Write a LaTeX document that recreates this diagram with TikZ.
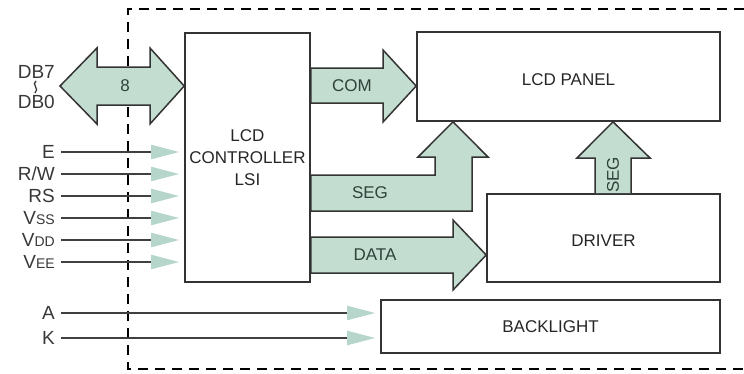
\documentclass[tikz,border=0pt]{standalone}
\usepackage{fontspec}
\setmainfont{Liberation Sans}
\usetikzlibrary{arrows.meta,positioning,calc}
\definecolor{fatgreen}{HTML}{C3DDD0}
\definecolor{tipgreen}{HTML}{B6D6CB}
\definecolor{inktext}{HTML}{383838}
\definecolor{arrowtext}{HTML}{2F423B}
\begin{document}
\begin{tikzpicture}[x=1pt,y=-1pt,
    block node/.style={draw=black!80,line width=1.6pt,inner sep=0pt,align=center,
        font=\fontsize{17}{22}\selectfont,text=black!85},
    pin label/.style={anchor=east,inner sep=0pt,text=inktext,font=\fontsize{19}{20}\selectfont},
    pin line/.style={draw=black!75,line width=2.2pt,
        -{Triangle[length=28pt,width=14pt,color=tipgreen]},shorten >=5pt},
    fat arrow/.style={fill=fatgreen,draw=black!80,line width=1.5pt,line join=miter},
    fat text/.style={text=arrowtext,font=\fontsize{17}{19}\selectfont}]
\useasboundingbox (0,0) rectangle (744,373);

% module border
\draw[line width=2.3pt,dash pattern=on 10pt off 7pt] (744,9) -- (128,9) -- (128,369) -- (744,369);

% blocks
\node[block node,minimum width=125pt,minimum height=249pt] (ctrl) at (247.5,157.5) {LCD\\CONTROLLER\\LSI};
\node[block node,minimum width=303pt,minimum height=89pt] (panel) at (568.5,76.5) {};
\node[block node,minimum width=233pt,minimum height=88pt] (driver) at (603.5,238) {};
\node[block node,minimum width=339pt,minimum height=53pt] (light) at (550.5,326.5) {};
\node[block node,draw=none] at (568.5,80) {LCD PANEL};
\node[block node,draw=none] at (603.5,241) {DRIVER};
\node[block node,draw=none] at (550.5,327) {BACKLIGHT};

% data bus
\node[pin label] (db7) at (55,72) {DB7};
\node[pin label] (db0) at (55,102) {DB0};
\draw[inktext,line width=1.3pt] (36,81) .. controls (31,84) and (40,89) .. (35,93);
\draw[fat arrow] (60,86) -- (97,48) -- (97,67) -- (150,67) -- (150,48) -- (ctrl.west |- 0,86)
    -- (150,124) -- (150,105) -- (97,105) -- (97,124) -- cycle;
\node[fat text] (busw) at (125,86) {8};

% control and supply pins
\foreach \nm/\txt/\yy in {e/E/152,rw/{R/W}/174,rs/RS/196,
        vss/{V{\fontsize{14}{15}\selectfont SS}}/218,
        vdd/{V{\fontsize{14}{15}\selectfont DD}}/240,
        vee/{V{\fontsize{14}{15}\selectfont EE}}/262}{
    \node[pin label] (\nm) at (55,\yy) {\txt};
    \draw[pin line] (\nm.east) ++(6pt,0) -- (ctrl.west |- \nm);
}
\node[pin label] (pa) at (55,313) {A};
\node[pin label] (pk) at (55,338) {K};
\draw[pin line] (pa.east) ++(6pt,0) -- (light.west |- pa);
\draw[pin line] (pk.east) ++(6pt,0) -- (light.west |- pk);

% COM
\draw[fat arrow] (ctrl.east |- 0,68) -- (383,68) -- (383,50) -- (panel.west |- 0,86)
    -- (383,122) -- (383,103) -- (ctrl.east |- 0,103) -- cycle;
\node[fat text] (com) at (352,86) {COM};

% SEG from controller
\draw[fat arrow] (ctrl.east |- 0,175) -- (435,175) -- (435,157) -- (418,157) -- (453,0 |- panel.south)
    -- (488,157) -- (472,157) -- (472,211) -- (ctrl.east |- 0,211) -- cycle;
\node[fat text] (segc) at (370,193) {SEG};

% SEG from driver
\draw[fat arrow] (595,0 |- driver.north) -- (595,158) -- (577,158) -- (613,0 |- panel.south)
    -- (650,158) -- (631,158) -- (631,0 |- driver.north);
\node[fat text,rotate=90] (segd) at (613,175) {SEG};

% DATA
\draw[fat arrow] (ctrl.east |- 0,237) -- (453,237) -- (453,220) -- (driver.west |- 0,255)
    -- (453,290) -- (453,273) -- (ctrl.east |- 0,273) -- cycle;
\node[fat text] (data) at (375,255) {DATA};
\end{tikzpicture}
\end{document}
